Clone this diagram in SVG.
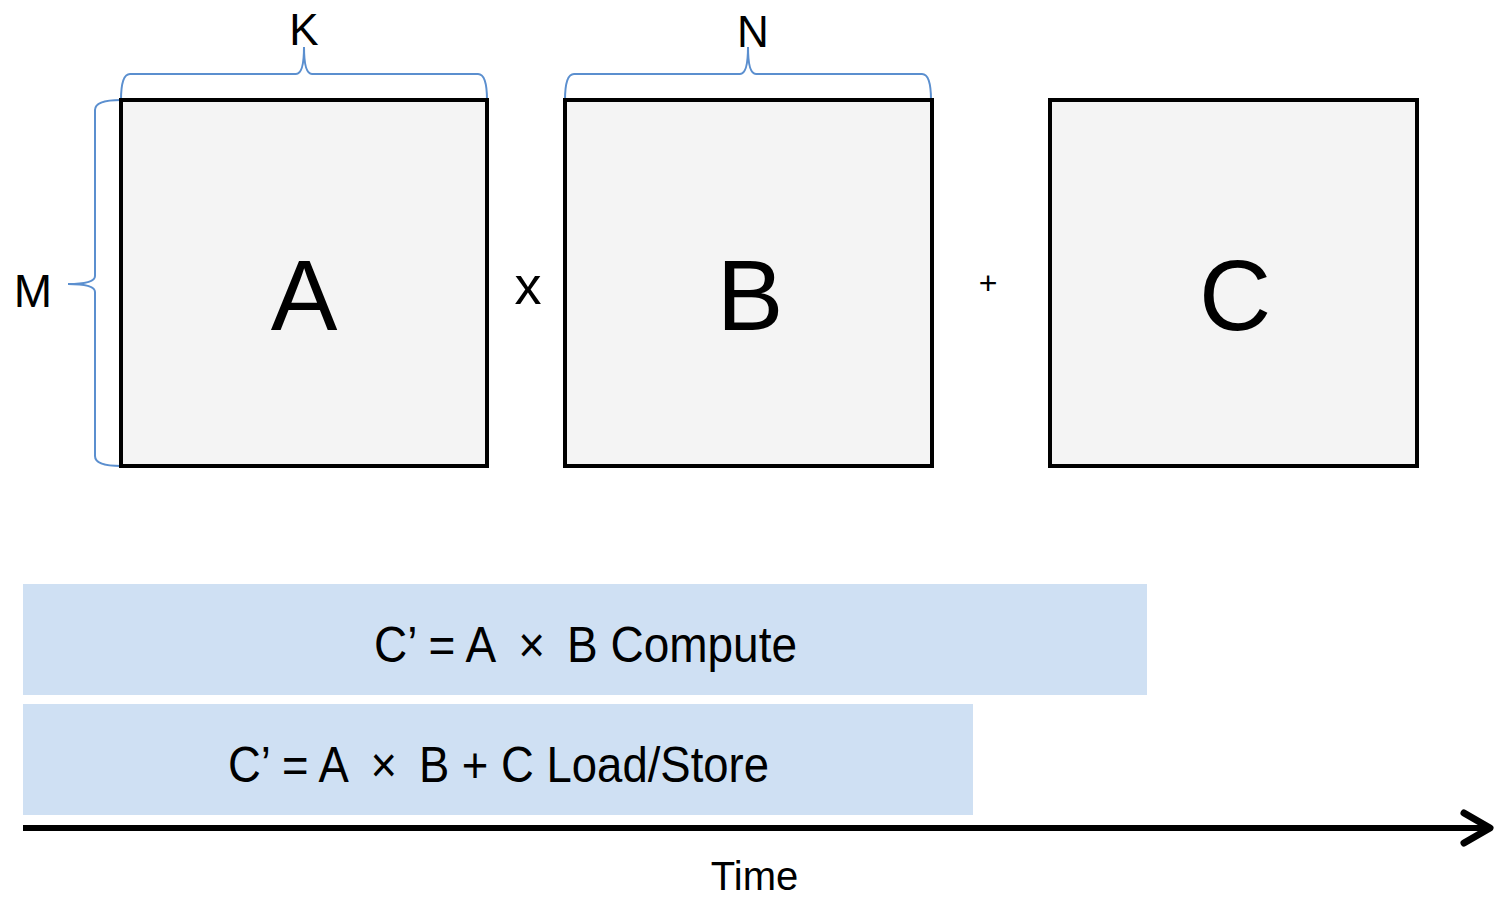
<svg xmlns="http://www.w3.org/2000/svg" width="1496" height="897" viewBox="0 0 1496 897">
<style>
.mat{fill:#f4f4f4;stroke:#000;stroke-width:4}
.brace{fill:none;stroke:#5b8fcf;stroke-width:2}
.t{font-family:"Liberation Sans",Arial,sans-serif;fill:#000;text-anchor:middle}
.bar{fill:#cfe0f3}
</style>
<rect width="1496" height="897" fill="#fff"/>
<g id="braces">
<path class="brace" d="M121 100 Q121 74 130 74 L296 74 Q304 74 304 47 Q304 74 312 74 L478 74 Q487 74 487 100"/>
<path class="brace" d="M565 100 Q565 74 574 74 L740 74 Q748 74 748 47 Q748 74 756 74 L922 74 Q931 74 931 100"/>
<path class="brace" d="M121 100 Q95 100 95 110 L95 276 Q95 284 68 284 Q95 284 95 292 L95 456 Q95 466 121 466"/>
<text class="t" x="304" y="45" font-size="44">K</text>
<text class="t" x="753" y="47" font-size="44">N</text>
<text class="t" x="33" y="307" font-size="46">M</text>
</g>
<g id="A"><rect class="mat" x="121" y="100" width="366" height="366"/><text class="t" x="304" y="330" font-size="100">A</text></g>
<g id="B"><rect class="mat" x="565" y="100" width="367" height="366"/><text class="t" x="750" y="330" font-size="100">B</text></g>
<g id="C"><rect class="mat" x="1050" y="100" width="367" height="366"/><text class="t" x="1235" y="330" font-size="100">C</text></g>
<text class="t" x="528" y="304" font-size="54">x</text>
<text class="t" x="988" y="294" font-size="32">+</text>
<g id="compute"><rect class="bar" x="23" y="584" width="1124" height="111"/><text class="t" x="585.5" y="662" font-size="50" textLength="423" lengthAdjust="spacingAndGlyphs">C’ = A&#8201; ×&#8201; B Compute</text></g>
<g id="loadstore"><rect class="bar" x="23" y="704" width="950" height="111"/><text class="t" x="498.5" y="782" font-size="50" textLength="541" lengthAdjust="spacingAndGlyphs">C’ = A&#8201; ×&#8201; B + C Load/Store</text></g>
<g id="connectors">
<line x1="23" y1="828" x2="1488" y2="828" stroke="#000" stroke-width="6"/>
<polyline points="1464,813 1490,828 1464,843" fill="none" stroke="#000" stroke-width="7" stroke-linecap="round" stroke-linejoin="round"/>
</g>
<text class="t" x="754.5" y="890" font-size="40">Time</text>
</svg>
